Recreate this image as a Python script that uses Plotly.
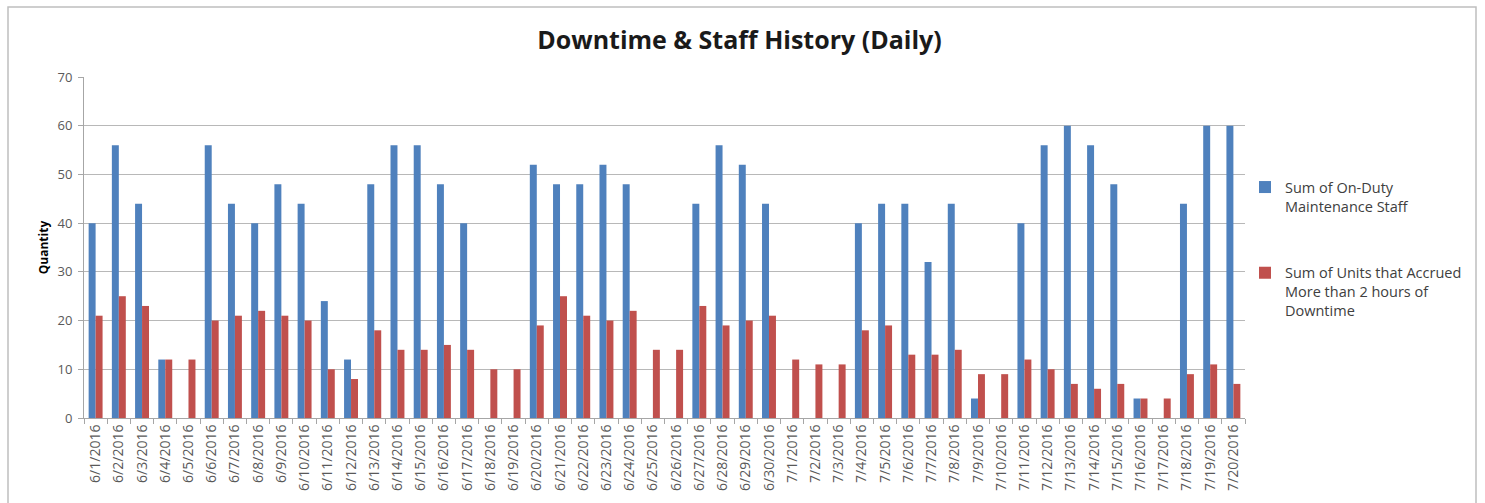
import plotly.graph_objects as go

dates = ["6/1/2016","6/2/2016","6/3/2016","6/4/2016","6/5/2016","6/6/2016","6/7/2016","6/8/2016","6/9/2016","6/10/2016",
         "6/11/2016","6/12/2016","6/13/2016","6/14/2016","6/15/2016","6/16/2016","6/17/2016","6/18/2016","6/19/2016","6/20/2016",
         "6/21/2016","6/22/2016","6/23/2016","6/24/2016","6/25/2016","6/26/2016","6/27/2016","6/28/2016","6/29/2016","6/30/2016",
         "7/1/2016","7/2/2016","7/3/2016","7/4/2016","7/5/2016","7/6/2016","7/7/2016","7/8/2016","7/9/2016","7/10/2016",
         "7/11/2016","7/12/2016","7/13/2016","7/14/2016","7/15/2016","7/16/2016","7/17/2016","7/18/2016","7/19/2016","7/20/2016"]

staff = [40,56,44,12,0,56,44,40,48,44,
         24,12,48,56,56,48,40,0,0,52,
         48,48,52,48,0,0,44,56,52,44,
         0,0,0,40,44,44,32,44,4,0,
         40,56,60,56,48,4,0,44,60,60]

units = [21,25,23,12,12,20,21,22,21,20,
         10,8,18,14,14,15,14,10,10,19,
         25,21,20,22,14,14,23,19,20,21,
         12,11,11,18,19,13,13,14,9,9,
         12,10,7,6,7,4,4,9,11,7]

y_ticks = [0, 10, 20, 30, 40, 50, 60, 70]

FONT = "Open Sans"

fig = go.Figure()
fig.add_trace(go.Bar(x=dates, y=staff, name="Sum of On-Duty<br>Maintenance Staff",
                     marker=dict(color="#4F81BD", line=dict(width=0)), legendgroup="a",
                     textposition="none"))
fig.add_trace(go.Bar(x=dates, y=units, name="Sum of Units that Accrued<br>More than 2 hours of<br>Downtime",
                     marker=dict(color="#C0504D", line=dict(width=0)), legendgroup="b",
                     textposition="none"))

fig.update_layout(
    width=1485, height=503,
    margin=dict(l=84, r=240, t=77, b=85),
    paper_bgcolor="white", plot_bgcolor="white",
    barmode="group", bargap=0.40, bargroupgap=0,
    title=dict(text="<b>Downtime & Staff History (Daily)</b>", x=0.498, xanchor="center",
               y=1 - 40/503, yanchor="middle",
               font=dict(family=FONT, size=25, color="#1a1a1a")),
    font=dict(family=FONT, color="#595959"),
    legend=dict(x=1.0, y=0.724, xanchor="left", yanchor="top", valign="top",
                traceorder="grouped", tracegroupgap=45,
                font=dict(family=FONT, size=14.5, color="#404040"),
                itemwidth=30, bgcolor="rgba(0,0,0,0)"),
    showlegend=True,
)

fig.update_yaxes(range=[0, 70], tickvals=y_ticks, showgrid=True, gridcolor="#b8b8b8", gridwidth=1,
                 showline=True, linecolor="#a6a6a6", linewidth=1, ticks="outside", ticklen=5,
                 tickcolor="#a6a6a6", tickfont=dict(size=13, color="#595959"), zeroline=False,
                 ticklabelstandoff=3,
                 title=dict(text="<b>Quantity</b>", font=dict(size=12, color="#000000"), standoff=6))
fig.update_xaxes(type="category", tickangle=-90, showline=True, linecolor="#a6a6a6", linewidth=1,
                 ticks="outside", ticklen=5, tickcolor="#a6a6a6", tickson="boundaries",
                 tickfont=dict(size=14, color="#595959"), showgrid=False)

fig.add_shape(type="rect", xref="paper", yref="paper",
              x0=(8-84)/1161, x1=(1476-84)/1161, y0=-0.5, y1=(418-7)/341,
              line=dict(color="#bfbfbf", width=1.5), fillcolor="rgba(0,0,0,0)", layer="below")

fig.write_html("out.html", config={"displayModeBar": False},
               post_script="document.body.style.margin='0px';")
